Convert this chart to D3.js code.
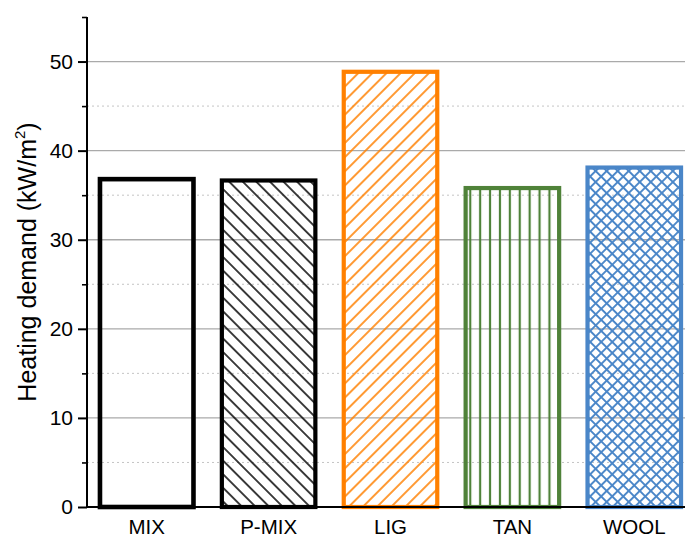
<!DOCTYPE html>
<html><head><meta charset="utf-8">
<script src="https://cdn.jsdelivr.net/npm/d3@7"></script>
<style>html,body{margin:0;padding:0;background:#fff;} svg{display:block;}</style>
</head><body>
<svg id="chart" width="685" height="539"></svg>
<script>
const categories = ["MIX", "P-MIX", "LIG", "TAN", "WOOL"];
const values = [36.8, 36.65, 48.85, 35.8, 38.1];
const colors = ["#000000", "#000000", "#ff8000", "#4f8239", "#4a86c8"];
const patterns = ["none", "back", "fwd", "vert", "cross"];
const majorTicks = [0, 10, 20, 30, 40, 50];
const minorTicks = [5, 15, 25, 35, 45, 55];

const svg = d3.select("#chart");
const font = "'Liberation Sans', Arial, sans-serif";
const x0 = 87, yBottom = 507, yTop = 17;

const y = d3.scaleLinear().domain([0, 55]).range([yBottom, yTop]);
const x = d3.scaleBand().domain(categories).range([x0, 694]).paddingInner(0.2).paddingOuter(0.09);

// patterns
const defs = svg.append("defs");
function linePattern(id, color, spacing, angle, width) {
  const p = defs.append("pattern").attr("id", id).attr("patternUnits", "userSpaceOnUse")
    .attr("width", spacing).attr("height", spacing)
    .attr("patternTransform", `rotate(${angle})`);
  p.append("line").attr("x1", spacing / 2).attr("y1", -1).attr("x2", spacing / 2).attr("y2", spacing + 1)
    .attr("stroke", color).attr("stroke-width", width);
  return p;
}
linePattern("pat-back", "#000", 9.6, -45, 1.5);
linePattern("pat-fwd", "#ff8000", 10, 45, 1.6);
linePattern("pat-vert", "#4f8239", 9.9, 0, 2.2);
(function () {
  const s = 7.8;
  const p = defs.append("pattern").attr("id", "pat-cross").attr("patternUnits", "userSpaceOnUse")
    .attr("width", s).attr("height", s).attr("patternTransform", "rotate(45)");
  p.append("line").attr("x1", s / 2).attr("y1", -1).attr("x2", s / 2).attr("y2", s + 1)
    .attr("stroke", "#4a86c8").attr("stroke-width", 1.9);
  p.append("line").attr("y1", s / 2).attr("x1", -1).attr("y2", s / 2).attr("x2", s + 1)
    .attr("stroke", "#4a86c8").attr("stroke-width", 1.9);
})();

// grid lines
svg.append("g").selectAll("line").data(majorTicks.filter(d => d > 0)).join("line")
  .attr("x1", x0).attr("x2", 685).attr("y1", d => y(d)).attr("y2", d => y(d))
  .attr("stroke", "#aaaaaa").attr("stroke-width", 1.3);
svg.append("g").selectAll("line").data(minorTicks.filter(d => d < 55)).join("line")
  .attr("x1", x0).attr("x2", 685).attr("y1", d => y(d)).attr("y2", d => y(d))
  .attr("stroke", "#c4c4c4").attr("stroke-width", 1).attr("stroke-dasharray", "2,3");

// bars
const bw = x.bandwidth();
svg.append("g").selectAll("rect").data(categories).join("rect")
  .attr("x", d => x(d) + 2)
  .attr("width", bw - 4)
  .attr("y", (d, i) => y(values[i]))
  .attr("height", (d, i) => yBottom - y(values[i]))
  .attr("fill", (d, i) => patterns[i] === "none" ? "none" : `url(#pat-${patterns[i]})`)
  .attr("stroke", (d, i) => colors[i])
  .attr("stroke-width", (d, i) => i === 0 ? 4.6 : 4.2);

// y axis
const yAxis = d3.axisLeft(y).tickValues(majorTicks).tickSize(9).tickPadding(5).tickFormat(d3.format("d"));
const gy = svg.append("g").attr("transform", `translate(${x0},0)`).call(yAxis);
gy.select(".domain").remove();
gy.selectAll(".tick line").attr("stroke", "#000").attr("stroke-width", 2);
gy.selectAll(".tick text").attr("font-family", font).attr("font-size", 21).attr("fill", "#000");
const yMinor = d3.axisLeft(y).tickValues(minorTicks).tickSize(5).tickFormat("");
const gym = svg.append("g").attr("transform", `translate(${x0},0)`).call(yMinor);
gym.select(".domain").remove();
gym.selectAll(".tick line").attr("stroke", "#000").attr("stroke-width", 1.6);
svg.append("line").attr("x1", x0).attr("x2", x0).attr("y1", y(55)).attr("y2", yBottom)
  .attr("stroke", "#000").attr("stroke-width", 2);

// x axis
const xAxis = d3.axisBottom(x).tickSize(0).tickPadding(0);
const gx = svg.append("g").attr("transform", `translate(0,${yBottom})`).call(xAxis);
gx.select(".domain").remove();
gx.selectAll(".tick text").attr("font-family", font).attr("font-size", 20.5).attr("fill", "#000")
  .attr("y", 27).attr("dy", 0);
svg.append("line").attr("x1", x0 - 1).attr("x2", 685).attr("y1", yBottom).attr("y2", yBottom)
  .attr("stroke", "#000").attr("stroke-width", 2);

// y title
const t = svg.append("text").attr("transform", `translate(36,${(yTop + yBottom) / 2}) rotate(-90)`)
  .attr("text-anchor", "middle").attr("font-family", font).attr("font-size", 25).attr("fill", "#000");
t.append("tspan").text("Heating demand (kW/m");
t.append("tspan").attr("font-size", 15).attr("dy", -11).text("2");
t.append("tspan").attr("dy", 11).text(")");
</script>
</body></html>
